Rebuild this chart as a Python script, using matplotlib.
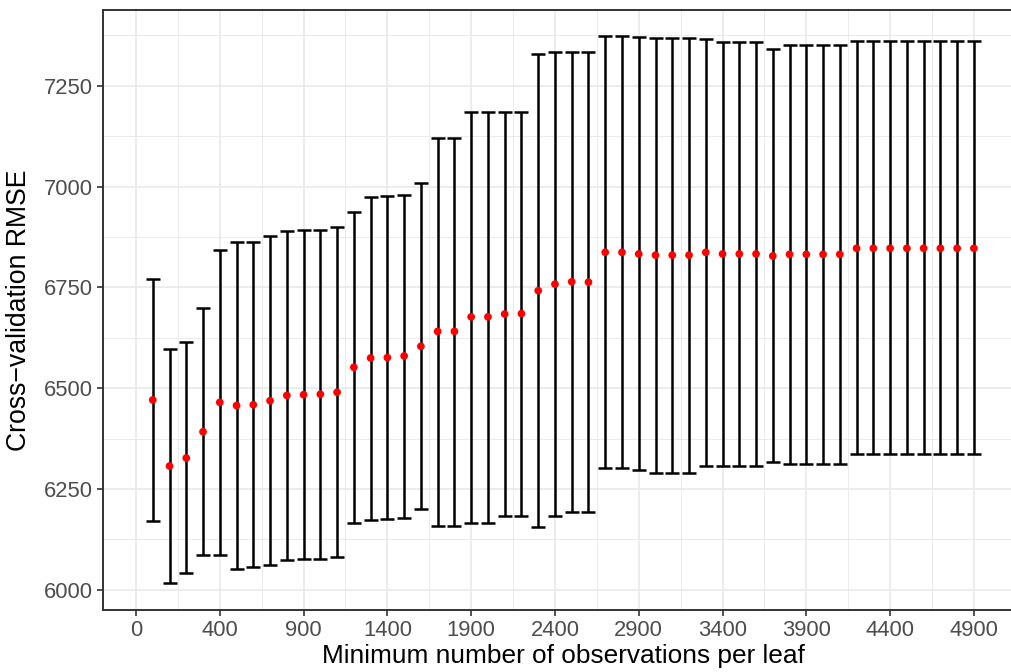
import matplotlib
matplotlib.use("Agg")
import matplotlib.pyplot as plt
from matplotlib.ticker import FixedLocator

# minimum observations per leaf and the cross-validated RMSE (mean, lower, upper)
min_obs = [0, 100, 200, 300, 400, 500, 600, 700, 800, 900,
           1000, 1100, 1200, 1300, 1400, 1500, 1600, 1700, 1800, 1900,
           2000, 2100, 2200, 2300, 2400, 2500, 2600, 2700, 2800, 2900,
           3000, 3100, 3200, 3300, 3400, 3500, 3600, 3700, 3800, 3900,
           4000, 4100, 4200, 4300, 4400, 4500, 4600, 4700, 4800, 4900]
rmse_mean = [6471, 6307, 6327, 6392, 6465, 6457, 6459, 6469, 6482, 6484,
             6485, 6490, 6552, 6575, 6576, 6580, 6604, 6641, 6641, 6677,
             6677, 6684, 6685, 6742, 6758, 6764, 6763, 6837, 6837, 6833,
             6830, 6830, 6830, 6837, 6833, 6833, 6833, 6828, 6832, 6832,
             6832, 6832, 6847, 6847, 6847, 6847, 6847, 6847, 6847, 6847]
rmse_low = [6171, 6017, 6042, 6086, 6086, 6052, 6057, 6061, 6074, 6076,
            6077, 6081, 6167, 6174, 6176, 6179, 6200, 6159, 6159, 6167,
            6167, 6184, 6184, 6157, 6184, 6194, 6193, 6301, 6301, 6298,
            6291, 6291, 6291, 6308, 6308, 6308, 6308, 6316, 6313, 6313,
            6313, 6313, 6336, 6336, 6336, 6336, 6336, 6336, 6336, 6336]
rmse_high = [6771, 6598, 6614, 6699, 6843, 6862, 6862, 6877, 6890, 6893,
             6893, 6901, 6937, 6975, 6977, 6980, 7009, 7121, 7121, 7186,
             7186, 7185, 7185, 7329, 7335, 7335, 7335, 7374, 7374, 7370,
             7368, 7368, 7368, 7366, 7359, 7359, 7359, 7341, 7350, 7351,
             7351, 7351, 7362, 7362, 7362, 7362, 7362, 7362, 7362, 7362]

x_breaks = [-100, 400, 900, 1400, 1900, 2400, 2900, 3400, 3900, 4400, 4900]
x_labels = ["0", "400", "900", "1400", "1900", "2400", "2900", "3400", "3900", "4400", "4900"]
y_breaks = [6000, 6250, 6500, 6750, 7000, 7250]

plt.rcParams["font.family"] = ["Liberation Sans", "DejaVu Sans"]

fig = plt.figure(figsize=(10.11, 6.72), dpi=100)
# panel runs a little past the right edge of the canvas
ax = fig.add_axes([103 / 1011, 62 / 672, 920 / 1011, 600 / 672])

err_lo = [m - l for m, l in zip(rmse_mean, rmse_low)]
err_hi = [h - m for m, h in zip(rmse_mean, rmse_high)]
ax.errorbar(min_obs, rmse_mean, yerr=[err_lo, err_hi], fmt="none",
            ecolor="black", elinewidth=1.8, capsize=5.3, capthick=1.8, zorder=3)
ax.scatter(min_obs, rmse_mean, s=31, color="red", edgecolors="none", zorder=4)

ax.set_xlim(-297, 5193)
ax.set_ylim(5950, 7438)

ax.xaxis.set_major_locator(FixedLocator(x_breaks))
ax.set_xticklabels(x_labels)
ax.xaxis.set_minor_locator(FixedLocator([b + 250 for b in x_breaks]))
ax.yaxis.set_major_locator(FixedLocator(y_breaks))
ax.yaxis.set_minor_locator(FixedLocator([b + 125 for b in y_breaks] + [5875]))

ax.grid(which="major", color="#EBEBEB", linewidth=1.3, zorder=0)
ax.grid(which="minor", color="#EBEBEB", linewidth=0.7, zorder=0)
ax.set_axisbelow(True)

ax.tick_params(which="major", length=4.5, width=1.2, color="#333333",
               labelcolor="#4D4D4D", labelsize=15.8, pad=3)
ax.tick_params(which="minor", length=0)

for side in ["top", "bottom", "left", "right"]:
    ax.spines[side].set_color("#333333")
    ax.spines[side].set_linewidth(1.4)

ax.set_xlabel("Minimum number of observations per leaf", fontsize=18.9, labelpad=2)
ax.set_ylabel("Cross\u2212validation RMSE", fontsize=19.2, labelpad=8)

fig.savefig("out.png", dpi=100)
